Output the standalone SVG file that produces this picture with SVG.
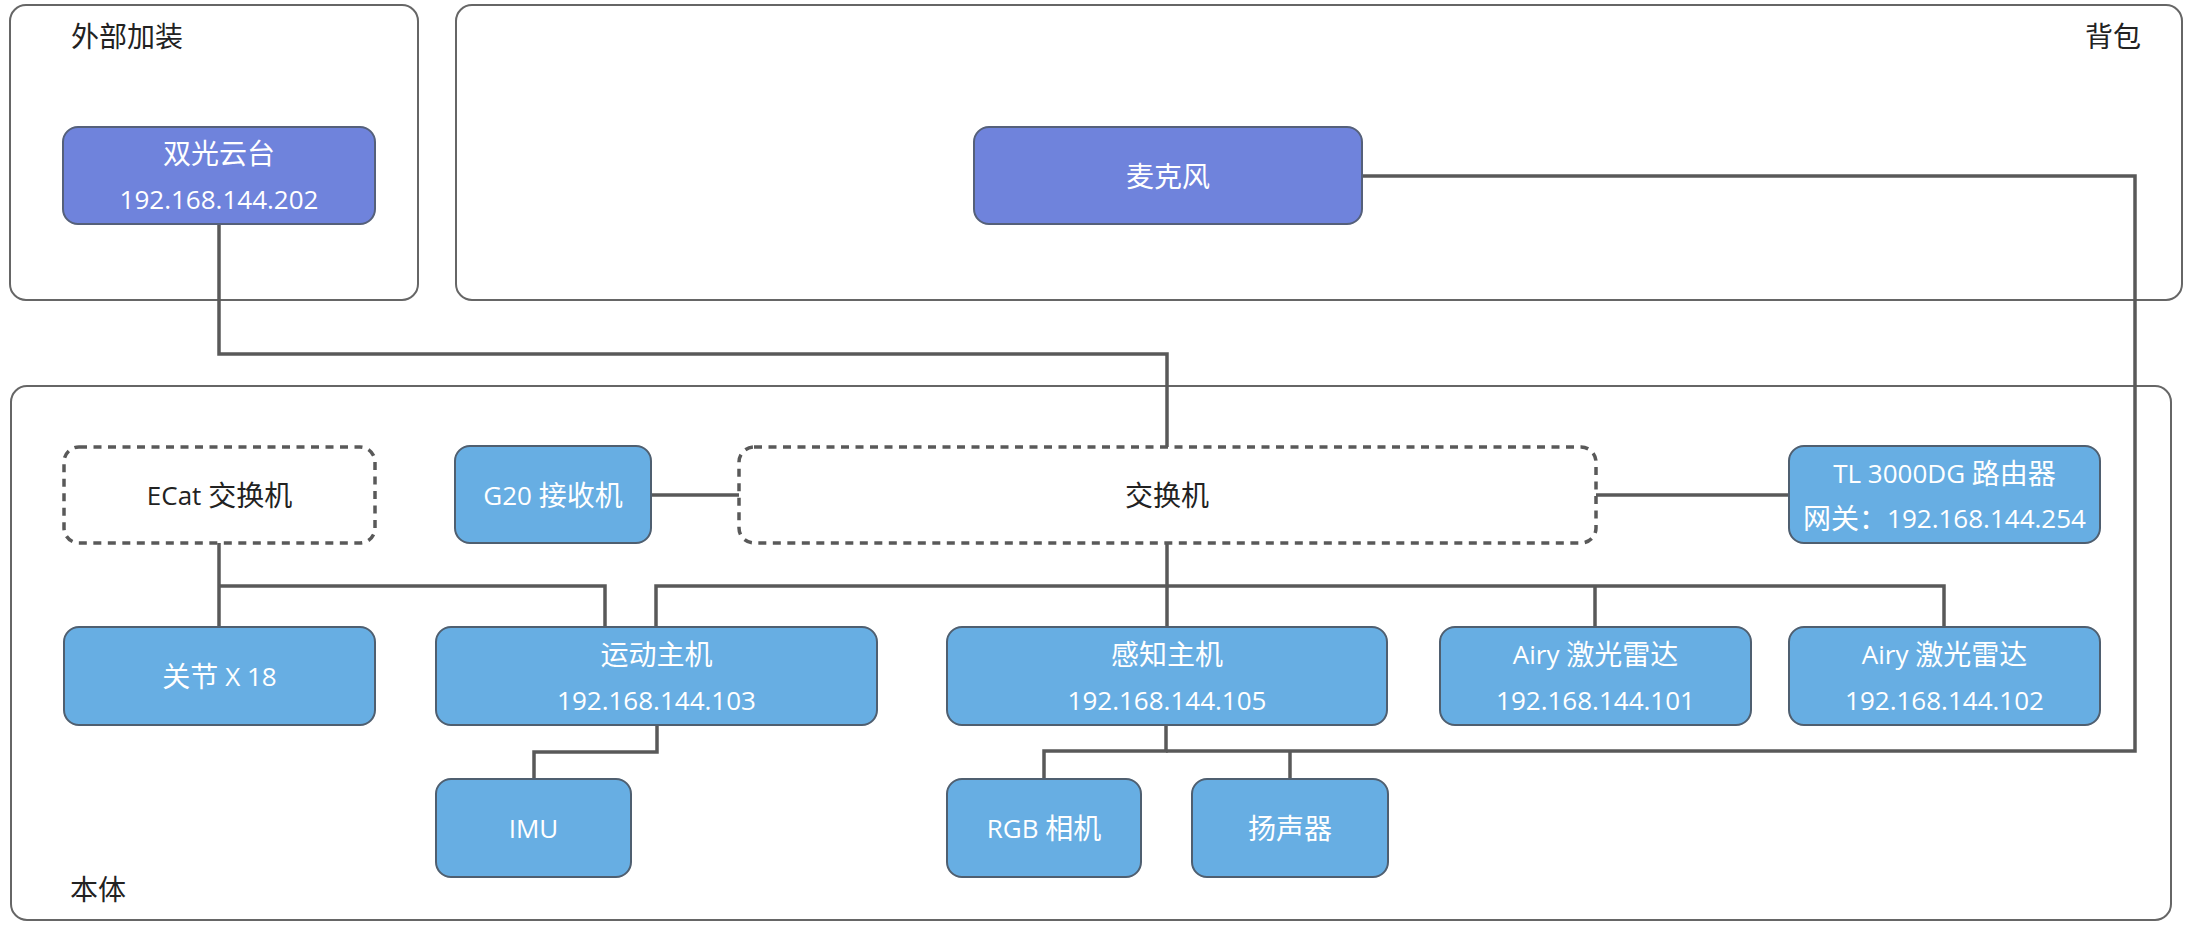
<svg xmlns="http://www.w3.org/2000/svg" width="2197" height="925" viewBox="0 0 2197 925">
<style>
text{font-family:"Open Sans","Noto Sans CJK SC",sans-serif;font-size:26px}
.k{font-size:28px}
.cont{fill:#fff;stroke:#666;stroke-width:2}
.lbl{fill:#222;font-size:28px}
.n1{fill:#6f83dc;stroke:#55607a;stroke-width:2}
.n2{fill:#67aee3;stroke:#4f5f70;stroke-width:2}
.dash{fill:#fff;stroke:#595959;stroke-width:3.5;stroke-dasharray:8 6.5}
.t{fill:#fff;text-anchor:middle;dominant-baseline:central}
.td{fill:#222;text-anchor:middle;dominant-baseline:central}
.c{fill:none;stroke:#595959;stroke-width:3.5}
</style>
<rect width="2197" height="925" fill="#fff"/>
<g id="containers">
<g id="g-outer"><rect class="cont" x="10" y="5" width="408" height="295" rx="16"/><text class="lbl" x="71" y="47">外部加装</text></g>
<g id="g-backpack"><rect class="cont" x="456" y="5" width="1726" height="295" rx="16"/><text class="lbl" x="2141" y="47" text-anchor="end">背包</text></g>
<g id="g-body"><rect class="cont" x="11" y="386" width="2160" height="534" rx="16"/><text class="lbl" x="70" y="900">本体</text></g>
</g>
<g id="connectors">
<path class="c" d="M219,224 V354 H1167 V447"/>
<path class="c" d="M1362,176 H2135 V751 H1166"/>
<path class="c" d="M1166,725 V751 H1044 V779"/>
<path class="c" d="M1290,751 V779"/>
<path class="c" d="M657,725 V752 H534 V779"/>
<path class="c" d="M219,543 V627"/>
<path class="c" d="M219,586 H605 V627"/>
<path class="c" d="M1167,543 V627"/>
<path class="c" d="M656,627 V586 H1944 V627"/>
<path class="c" d="M1595,586 V627"/>
<path class="c" d="M651,495 H739"/>
<path class="c" d="M1596,495 H1789"/>
</g>
<g id="n-shuangguang"><rect class="n1" x="63" y="127" width="312" height="97" rx="15"/><text class="t k" x="219" y="153">双光云台</text><text class="t" x="219" y="199">192.168.144.202</text></g>
<g id="n-mic"><rect class="n1" x="974" y="127" width="388" height="97" rx="15"/><text class="t k" x="1168" y="175.5">麦克风</text></g>
<g id="n-ecat"><rect class="dash" x="64" y="447" width="311" height="96" rx="15"/><text class="td" x="219.5" y="495">ECat <tspan class="k">交换机</tspan></text></g>
<g id="n-g20"><rect class="n2" x="455" y="446" width="196" height="97" rx="15"/><text class="t" x="553" y="494.5">G20 <tspan class="k">接收机</tspan></text></g>
<g id="n-switch"><rect class="dash" x="739" y="447" width="857" height="96" rx="15"/><text class="td k" x="1167" y="495">交换机</text></g>
<g id="n-router"><rect class="n2" x="1789" y="446" width="311" height="97" rx="15"/><text class="t" x="1944.5" y="473">TL 3000DG <tspan class="k">路由器</tspan></text><text class="t" x="1944.5" y="518"><tspan class="k">网关：</tspan>192.168.144.254</text></g>
<g id="n-joint"><rect class="n2" x="64" y="627" width="311" height="98" rx="15"/><text class="t" x="219.5" y="676"><tspan class="k">关节</tspan> X 18</text></g>
<g id="n-motion"><rect class="n2" x="436" y="627" width="441" height="98" rx="15"/><text class="t k" x="656.5" y="654">运动主机</text><text class="t" x="656.5" y="700">192.168.144.103</text></g>
<g id="n-percep"><rect class="n2" x="947" y="627" width="440" height="98" rx="15"/><text class="t k" x="1167" y="654">感知主机</text><text class="t" x="1167" y="700">192.168.144.105</text></g>
<g id="n-airy1"><rect class="n2" x="1440" y="627" width="311" height="98" rx="15"/><text class="t" x="1595.5" y="654">Airy <tspan class="k">激光雷达</tspan></text><text class="t" x="1595.5" y="700">192.168.144.101</text></g>
<g id="n-airy2"><rect class="n2" x="1789" y="627" width="311" height="98" rx="15"/><text class="t" x="1944.5" y="654">Airy <tspan class="k">激光雷达</tspan></text><text class="t" x="1944.5" y="700">192.168.144.102</text></g>
<g id="n-imu"><rect class="n2" x="436" y="779" width="195" height="98" rx="15"/><text class="t" x="533.5" y="828">IMU</text></g>
<g id="n-rgb"><rect class="n2" x="947" y="779" width="194" height="98" rx="15"/><text class="t" x="1044" y="828">RGB <tspan class="k">相机</tspan></text></g>
<g id="n-speaker"><rect class="n2" x="1192" y="779" width="196" height="98" rx="15"/><text class="t k" x="1290" y="828">扬声器</text></g>
</svg>
